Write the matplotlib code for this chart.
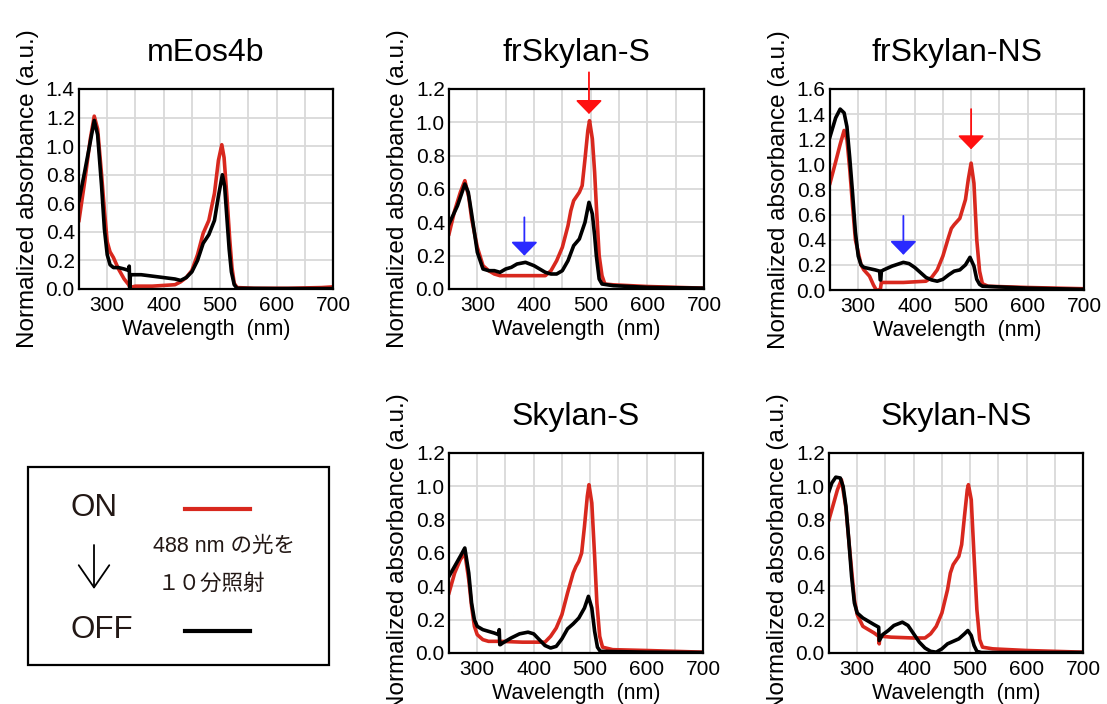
import matplotlib
matplotlib.use("Agg")
import matplotlib.pyplot as plt
from matplotlib.lines import Line2D
from matplotlib.patches import Rectangle

plt.rcParams['font.family'] = ['Liberation Sans', 'Noto Sans CJK JP', 'DejaVu Sans']

RED = '#d8281e'
BLACK = '#000000'

# ---------------- spectra (wavelength in nm, normalized absorbance) ----------------
meos_on_nm = [250, 260, 270, 277, 283, 290, 295, 300, 305, 311, 320, 330, 338, 340, 350,
              380, 420, 430, 440, 450, 460, 470, 480, 490, 497, 503, 507, 512, 517, 521,
              525, 530, 560, 620, 680, 700]
meos_on = [0.48, 0.75, 1.05, 1.21, 1.12, 0.80, 0.55, 0.33, 0.26, 0.22, 0.14, 0.07, 0.03, 0.01, 0.02,
           0.02, 0.03, 0.05, 0.08, 0.13, 0.24, 0.39, 0.48, 0.67, 0.90, 1.01, 0.92, 0.65, 0.35, 0.15,
           0.04, 0.01, 0.005, 0.005, 0.01, 0.015]

meos_off_nm = [250, 260, 270, 277, 283, 290, 295, 300, 305, 311, 320, 330, 338, 339, 340, 341,
               345, 360, 380, 400, 420, 430, 440, 450, 460, 470, 480, 490, 497, 504, 508,
               512, 516, 520, 525, 530, 600, 700]
meos_off = [0.62, 0.82, 1.03, 1.18, 1.08, 0.72, 0.42, 0.24, 0.17, 0.15, 0.15, 0.14, 0.13, 0.16, 0.0, 0.10,
            0.10, 0.10, 0.09, 0.08, 0.07, 0.06, 0.08, 0.12, 0.20, 0.32, 0.38, 0.48, 0.65, 0.80, 0.72,
            0.50, 0.28, 0.12, 0.03, 0.005, 0.003, 0.003]

frs_on_nm = [250, 260, 270, 278, 285, 290, 300, 310, 320, 330, 340, 380, 420, 430, 440, 450,
             460, 465, 470, 480, 485, 490, 495, 498, 503, 507, 510, 515, 520, 525, 540,
             600, 700]
frs_on = [0.33, 0.47, 0.58, 0.65, 0.55, 0.42, 0.25, 0.14, 0.11, 0.09, 0.08, 0.08, 0.08, 0.11, 0.17, 0.25,
          0.38, 0.47, 0.53, 0.58, 0.62, 0.78, 0.95, 1.01, 0.90, 0.70, 0.50, 0.20, 0.08, 0.03, 0.025,
          0.015, 0.005]

frs_off_nm = [250, 265, 278, 284, 290, 300, 310, 320, 330, 340, 350, 360, 370, 385, 400, 410,
              420, 430, 440, 450, 460, 470, 480, 490, 497, 503, 507, 510, 515, 520, 540,
              600, 700]
frs_off = [0.39, 0.50, 0.63, 0.58, 0.45, 0.22, 0.12, 0.11, 0.11, 0.10, 0.12, 0.13, 0.15, 0.16, 0.14, 0.12,
           0.10, 0.09, 0.09, 0.11, 0.17, 0.26, 0.30, 0.40, 0.52, 0.45, 0.32, 0.20, 0.06, 0.03, 0.02,
           0.01, 0.005]

frns_on_nm = [250, 260, 268, 275, 280, 285, 290, 295, 300, 305, 310, 320, 327, 332, 338, 339,
              341, 380, 420, 430, 440, 450, 460, 465, 470, 480, 490, 495, 500, 505, 510,
              515, 520, 530, 600, 700]
frns_on = [0.85, 1.02, 1.16, 1.27, 1.20, 0.96, 0.67, 0.40, 0.30, 0.20, 0.16, 0.11, 0.04, 0.0, 0.0, 0.0,
           0.06, 0.06, 0.07, 0.10, 0.16, 0.27, 0.42, 0.49, 0.52, 0.57, 0.72, 0.88, 1.01, 0.85, 0.40,
           0.15, 0.05, 0.03, 0.02, 0.01]

frns_off_nm = [250, 260, 268, 275, 280, 285, 290, 295, 300, 305, 310, 320, 330, 338, 339, 340,
               341, 345, 360, 380, 390, 400, 410, 420, 430, 440, 450, 460, 470, 480, 490,
               498, 505, 510, 515, 520, 600, 700]
frns_off = [1.22, 1.37, 1.44, 1.41, 1.30, 1.05, 0.77, 0.46, 0.27, 0.20, 0.18, 0.17, 0.16, 0.15, 0.08, 0.08,
            0.15, 0.16, 0.19, 0.22, 0.21, 0.18, 0.14, 0.10, 0.08, 0.07, 0.085, 0.12, 0.15, 0.16, 0.20,
            0.26, 0.19, 0.085, 0.045, 0.03, 0.015, 0.005]

sks_on_nm = [250, 260, 270, 278, 285, 290, 295, 300, 310, 320, 340, 380, 420, 430, 440, 450,
             460, 470, 475, 480, 485, 490, 495, 498, 503, 508, 512, 517, 522, 540, 600,
             700]
sks_on = [0.36, 0.48, 0.56, 0.60, 0.44, 0.28, 0.16, 0.11, 0.08, 0.07, 0.07, 0.065, 0.065, 0.10, 0.15, 0.23,
          0.36, 0.48, 0.52, 0.55, 0.60, 0.76, 0.94, 1.01, 0.90, 0.58, 0.30, 0.10, 0.035, 0.02, 0.015,
          0.005]

sks_off_nm = [250, 260, 270, 278, 285, 290, 295, 300, 310, 320, 330, 338, 339, 340, 341, 345,
              360, 375, 390, 400, 410, 420, 430, 440, 450, 460, 470, 480, 490, 497, 503,
              508, 513, 518, 600, 700]
sks_off = [0.46, 0.52, 0.58, 0.63, 0.48, 0.30, 0.20, 0.16, 0.14, 0.13, 0.12, 0.11, 0.14, 0.05, 0.05, 0.06,
           0.09, 0.115, 0.125, 0.115, 0.08, 0.045, 0.03, 0.04, 0.085, 0.145, 0.175, 0.21, 0.27, 0.34, 0.27,
           0.13, 0.035, 0.01, 0.005, 0.003]

skns_on_nm = [250, 260, 265, 272, 280, 285, 290, 295, 300, 310, 320, 330, 338, 339, 340, 345,
              360, 400, 420, 430, 440, 450, 460, 465, 470, 480, 485, 490, 495, 497, 502,
              507, 512, 517, 522, 540, 600, 700]
skns_on = [0.80, 0.92, 0.98, 1.04, 0.87, 0.68, 0.50, 0.32, 0.23, 0.16, 0.14, 0.12, 0.10, 0.055, 0.10, 0.10,
           0.095, 0.09, 0.09, 0.115, 0.16, 0.24, 0.38, 0.48, 0.53, 0.58, 0.65, 0.82, 0.98, 1.01, 0.92,
           0.58, 0.26, 0.08, 0.035, 0.025, 0.015, 0.005]

skns_off_nm = [250, 255, 262, 270, 275, 280, 285, 290, 295, 300, 310, 320, 330, 338, 339, 340,
               345, 355, 365, 380, 390, 400, 410, 420, 430, 440, 450, 460, 470, 480, 490,
               496, 502, 507, 512, 520, 600, 700]
skns_off = [0.97, 1.02, 1.055, 1.05, 1.00, 0.88, 0.68, 0.46, 0.30, 0.24, 0.21, 0.19, 0.17, 0.155, 0.075, 0.08,
            0.11, 0.135, 0.165, 0.185, 0.165, 0.115, 0.065, 0.03, 0.01, 0.005, 0.025, 0.055, 0.07, 0.085, 0.115,
            0.135, 0.105, 0.045, 0.01, 0.003, 0.003, 0.003]

# ---------------- panel definitions ----------------
titles = ['mEos4b', 'frSkylan-S', 'frSkylan-NS', 'Skylan-S', 'Skylan-NS']
y_max = [1.4, 1.2, 1.6, 1.2, 1.2]
spectra = [
    (meos_on_nm, meos_on, meos_off_nm, meos_off),
    (frs_on_nm, frs_on, frs_off_nm, frs_off),
    (frns_on_nm, frns_on, frns_off_nm, frns_off),
    (sks_on_nm, sks_on, sks_off_nm, sks_off),
    (skns_on_nm, skns_on, skns_off_nm, skns_off),
]
# axes boxes in pixels: left, top, right, bottom
boxes_px = [(79, 89, 333, 289), (449, 89, 704, 289), (830, 89, 1084, 290),
            (449, 453, 703, 653), (829, 453, 1083, 653)]

# arrows: panel index, wavelength, start value, tip value, colour
arrow_panel = [1, 1, 2, 2]
arrow_nm = [497, 383, 500, 380]
arrow_from = [1.30, 0.43, 1.44, 0.59]
arrow_to = [1.05, 0.20, 1.12, 0.28]
arrow_color = ['#ff1010', '#2a2aff', '#ff1010', '#2a2aff']

W, H = 1107, 704
fig = plt.figure(figsize=(W / 100, H / 100), dpi=100)

axes = []
for i, (title, ym, spec, box) in enumerate(zip(titles, y_max, spectra, boxes_px)):
    l, t, r, b = box
    ax = fig.add_axes([l / W, (H - b) / H, (r - l) / W, (b - t) / H])
    on_x, on_y, off_x, off_y = spec
    ax.plot(on_x, on_y, color=RED, lw=2.6, solid_joinstyle='round', zorder=3)
    ax.plot(off_x, off_y, color=BLACK, lw=2.6, solid_joinstyle='round', zorder=4)
    ax.set_xlim(250, 700)
    ax.set_ylim(0, ym)
    ax.set_xticks([300, 400, 500, 600, 700])
    ax.set_xticks([350, 450, 550, 650], minor=True)
    yt = [round(0.2 * k, 1) for k in range(int(round(ym / 0.2)) + 1)]
    ax.set_yticks(yt)
    ax.set_yticklabels([f'{v:.1f}' for v in yt])
    ax.grid(True, which='both', color='#d9d9d9', lw=1.3, zorder=0)
    ax.set_axisbelow(True)
    ax.tick_params(which='both', length=0, labelsize=15, pad=3)
    ax.tick_params(axis='x', pad=5)
    for sp in ax.spines.values():
        sp.set_linewidth(1.6)
        sp.set_zorder(5)
    ax.set_title(title, fontsize=23, pad=20)
    ax.set_xlabel('Wavelength  (nm)', fontsize=15.5, labelpad=3)
    ax.set_ylabel('Normalized absorbance (a.u.)', fontsize=17.5, labelpad=5)
    axes.append(ax)

for p, nm, y0, y1, c in zip(arrow_panel, arrow_nm, arrow_from, arrow_to, arrow_color):
    axes[p].annotate('', xy=(nm, y1), xytext=(nm, y0), annotation_clip=False,
                     arrowprops=dict(arrowstyle='-|>,head_length=8.5,head_width=8.3',
                                     mutation_scale=1, color=c, lw=1.3,
                                     shrinkA=0, shrinkB=0), zorder=6)

# ---------------- legend panel ----------------
lg = fig.add_axes([0, 0, 1, 1], facecolor='none')
lg.set_xlim(0, W)
lg.set_ylim(H, 0)
lg.axis('off')
lg.add_patch(Rectangle((28, 467), 301, 198, fill=False, ec='black', lw=1.6))
lg.text(70, 508, 'ON', fontsize=22.5, va='center', ha='left', color='#231815')
lg.text(70, 630, 'OFF', fontsize=22.5, va='center', ha='left', color='#231815')
lg.add_line(Line2D([185, 250], [509, 509], color=RED, lw=3))
lg.add_line(Line2D([185, 250], [631, 631], color=BLACK, lw=3))
lg.text(153, 546, '488 nm の光を', fontsize=15.5, va='center', ha='left', color='#231815')
lg.text(158, 584, '１０分照射', fontsize=15.5, va='center', ha='left', color='#231815')
lg.annotate('', xy=(94, 589), xytext=(94, 545),
            arrowprops=dict(arrowstyle='->,head_length=16,head_width=11',
                            mutation_scale=1, color='black', lw=1.3,
                            shrinkA=0, shrinkB=0))

fig.savefig('out.png', dpi=100)
